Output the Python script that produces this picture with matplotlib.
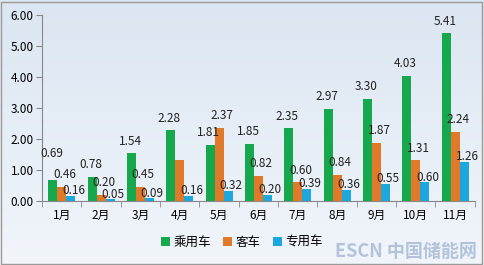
import numpy as np
import matplotlib
matplotlib.use('Agg')
import matplotlib.pyplot as plt
from matplotlib.patches import Rectangle

plt.rcParams['font.family'] = ['Noto Sans CJK SC', 'DejaVu Sans']

# data
months = ['1月', '2月', '3月', '4月', '5月', '6月', '7月', '8月', '9月', '10月', '11月']
passenger = [0.69, 0.78, 1.54, 2.28, 1.81, 1.85, 2.35, 2.97, 3.30, 4.03, 5.41]
bus = [0.46, 0.20, 0.45, 1.33, 2.37, 0.82, 0.60, 0.84, 1.87, 1.31, 2.24]
special = [0.16, 0.05, 0.09, 0.16, 0.32, 0.20, 0.39, 0.36, 0.55, 0.60, 1.26]
series_names = ['乘用车', '客车', '专用车']
colors = ['#16a84c', '#e0792a', '#1ea7dd']

fig = plt.figure(figsize=(4.84, 2.65), dpi=100)

# light blue gradient background
bg = fig.add_axes([0, 0, 1, 1], zorder=-5)
grad = np.linspace(0, 1, 100).reshape(-1, 1)
bg.imshow(grad, aspect='auto', cmap=matplotlib.colors.LinearSegmentedColormap.from_list(
    'bg', ['#dbe6f2', '#f1f5fa']), extent=[0, 1, 0, 1])
bg.axis('off')
fig.patches.append(Rectangle((0.002, 0.004), 0.994, 0.99, transform=fig.transFigure,
                             fill=False, edgecolor='#9a9a9a', lw=1))

ax = fig.add_axes([0.087, 0.2415, 0.894, 0.702])
ax.patch.set_alpha(0)

x = np.arange(len(months))
w = 0.23
data = [passenger, bus, special]
lift = [4, 4, -1]      # label offset (pt) per series
shift = [-1, 2, 2]
for i, (vals, name, c) in enumerate(zip(data, series_names, colors)):
    bars = ax.bar(x + (i - 1) * w, vals, w, color=c, label=name, zorder=2)
    for j, (b, v) in enumerate(zip(bars, vals)):
        if i == 1 and j == 3:
            continue  # hidden under watermark in the original
        dy = lift[i]
        if i == 0 and 0 < v - bus[j] < 0.35:
            dy = 14
        ax.annotate('%.2f' % v, (b.get_x() + b.get_width() / 2, v),
                    xytext=(shift[i], dy), textcoords='offset points',
                    ha='center', va='bottom', fontsize=8.5, color='#222222', zorder=3)

ax.set_xlim(-0.5, len(months) - 0.5)
ax.set_ylim(0, 6)
ax.set_yticks(np.arange(0, 6.01, 1))
ax.set_yticklabels(['%.2f' % t for t in np.arange(0, 6.01, 1)], fontsize=8.5)
ax.set_xticks(x)
ax.set_xticklabels(months, fontsize=8.5)
ax.set_xticks(np.arange(-0.5, len(months)), minor=True)
ax.tick_params(axis='x', which='major', length=0, pad=6)
ax.tick_params(axis='x', which='minor', length=4, color='#888888')
ax.tick_params(axis='y', length=4, color='#888888', pad=2)
for s in ['top', 'right']:
    ax.spines[s].set_visible(False)
for s in ['left', 'bottom']:
    ax.spines[s].set_color('#888888')

fig.legend(loc='center', bbox_to_anchor=(0.5, 0.085), ncol=3, frameon=False,
           fontsize=9, handlelength=0.7, handleheight=0.7, handletextpad=0.3,
           columnspacing=1.0)

# watermark
fig.text(0.985, 0.015, 'ESCN 中国储能网', ha='right', va='bottom', fontsize=13,
         color='#7f9cc4', alpha=0.55, fontweight='bold')

fig.savefig('out.png', dpi=100)
